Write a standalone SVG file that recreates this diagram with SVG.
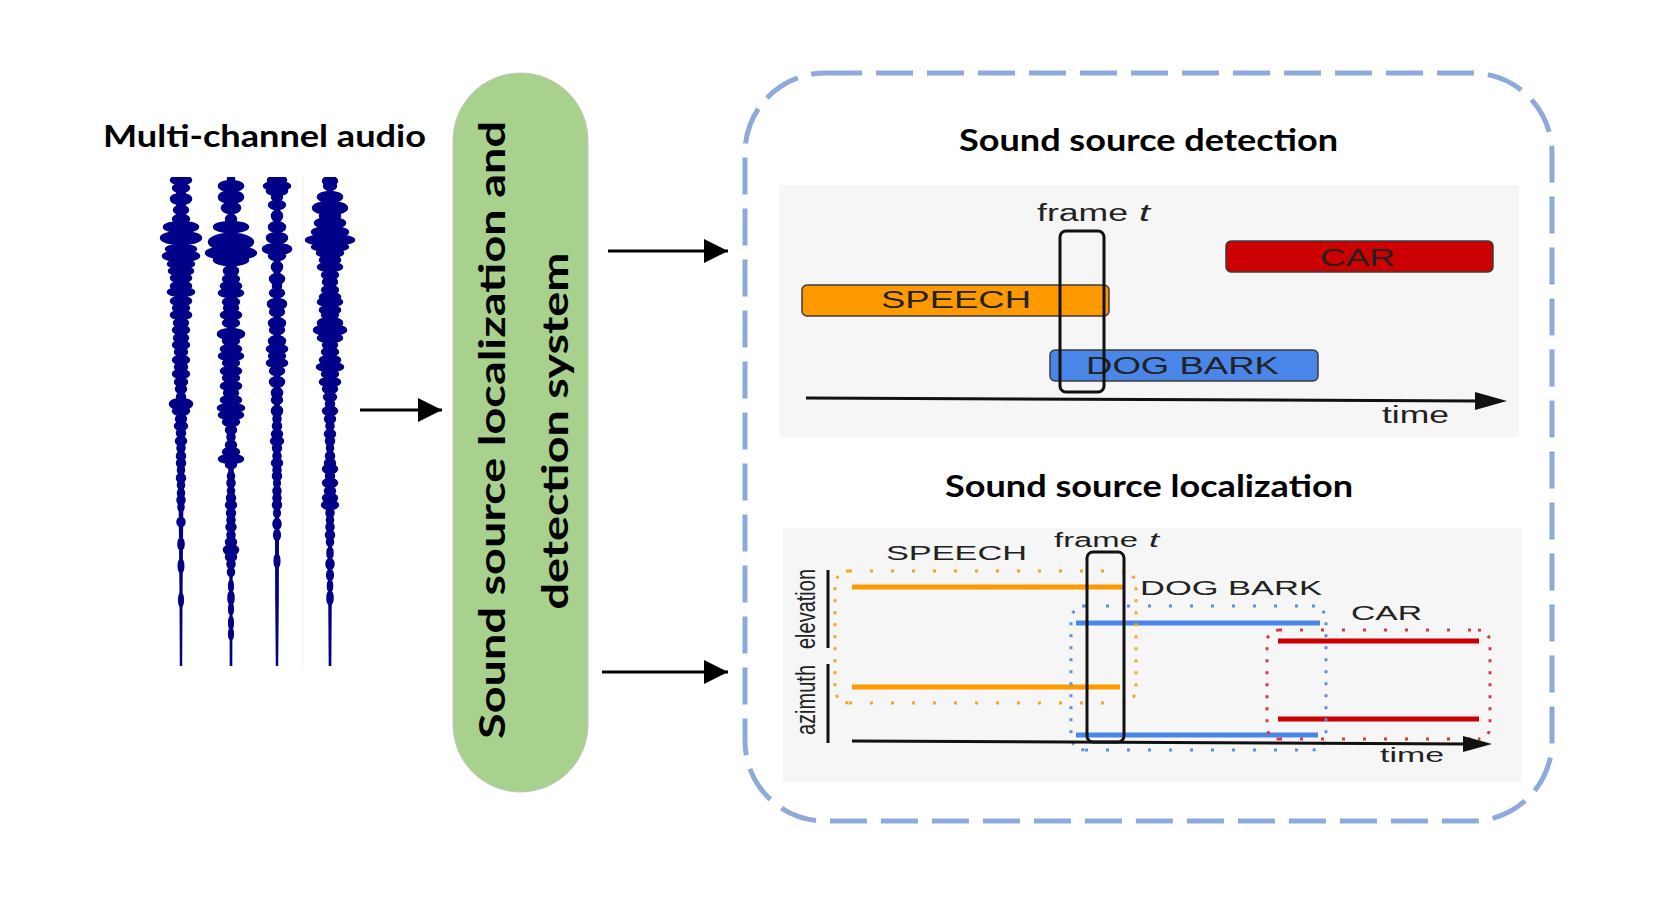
<svg xmlns="http://www.w3.org/2000/svg" width="1655" height="897" viewBox="0 0 1655 897">
<style>
.title{font-family:Lato,"Open Sans","Noto Sans",sans-serif;font-weight:bold;fill:#000}
.lbl{font-family:"Liberation Sans",Arial,sans-serif;fill:#222}
.wave{fill:#000088}
.wave ellipse{stroke:#000088;stroke-width:2.5}
.conn{stroke:#000;stroke-width:3;fill:none}
.bar{stroke:#3c3c3c;stroke-width:1.5}
.frame{fill:none;stroke:#111;stroke-width:3}
.dotH{fill:none;stroke-width:3;stroke-dasharray:3 18}
.dotV{fill:none;stroke-width:3;stroke-dasharray:3 9}
</style>
<defs>
<marker id="arr" markerUnits="userSpaceOnUse" markerWidth="24" markerHeight="24" refX="24" refY="12" orient="auto" viewBox="0 0 24 24">
<path d="M0,0 L24,12 L0,24 Z" fill="#000"/>
</marker>
<clipPath id="wclip"><rect x="140" y="177" width="220" height="489"/></clipPath>
</defs>
<rect width="1655" height="897" fill="#fff"/>

<g id="audio">
<text class="title" x="103" y="147" font-size="31" textLength="323" lengthAdjust="spacingAndGlyphs">Multi-channel audio</text>
<line x1="303" y1="177" x2="303" y2="666" stroke="#efefef" stroke-width="1"/>
<g class="wave" clip-path="url(#wclip)">
<path d="M176,177 L186,177 185,300 184,450 183,540 182.5,600 182.2,666 179.8,666 179.5,600 179,540 178,450 177,300 Z"/>
<ellipse cx="181" cy="180" rx="10" ry="4"/><ellipse cx="181" cy="188" rx="8" ry="4"/><ellipse cx="181" cy="199" rx="10" ry="5"/><ellipse cx="181" cy="210" rx="7" ry="4"/><ellipse cx="181" cy="219" rx="8" ry="4"/><ellipse cx="181" cy="227" rx="17" ry="5"/><ellipse cx="181" cy="238" rx="20" ry="6"/><ellipse cx="181" cy="249" rx="15" ry="4"/><ellipse cx="181" cy="256" rx="18" ry="5"/><ellipse cx="181" cy="264" rx="13" ry="4"/><ellipse cx="181" cy="271" rx="12" ry="4"/><ellipse cx="181" cy="278" rx="10" ry="4"/><ellipse cx="181" cy="286" rx="10" ry="4"/><ellipse cx="181" cy="292" rx="13" ry="4"/><ellipse cx="181" cy="301" rx="10" ry="4"/><ellipse cx="181" cy="308" rx="8" ry="4"/><ellipse cx="181" cy="315" rx="10" ry="4"/><ellipse cx="181" cy="323" rx="7" ry="4"/><ellipse cx="181" cy="330" rx="8" ry="4"/><ellipse cx="181" cy="338" rx="7" ry="4"/><ellipse cx="181" cy="345" rx="8" ry="4"/><ellipse cx="181" cy="352" rx="6" ry="4"/><ellipse cx="181" cy="360" rx="8" ry="4"/><ellipse cx="181" cy="367" rx="6" ry="4"/><ellipse cx="181" cy="374" rx="8" ry="4"/><ellipse cx="181" cy="382" rx="6" ry="4"/><ellipse cx="181" cy="389" rx="5" ry="4"/><ellipse cx="181" cy="397" rx="4" ry="4"/><ellipse cx="181" cy="404" rx="11" ry="5"/><ellipse cx="181" cy="411" rx="8" ry="4"/><ellipse cx="181" cy="419" rx="5" ry="4"/><ellipse cx="181" cy="426" rx="6" ry="4"/><ellipse cx="181" cy="433" rx="4" ry="4"/><ellipse cx="181" cy="441" rx="5" ry="4"/><ellipse cx="181" cy="448" rx="3.5" ry="4"/><ellipse cx="181" cy="456" rx="4" ry="4"/><ellipse cx="181" cy="463" rx="4" ry="4"/><ellipse cx="181" cy="470" rx="3" ry="4"/><ellipse cx="181" cy="478" rx="4" ry="4"/><ellipse cx="181" cy="485" rx="3" ry="4"/><ellipse cx="181" cy="493" rx="3" ry="4"/><ellipse cx="181" cy="500" rx="3.5" ry="4"/><ellipse cx="181" cy="507" rx="2.5" ry="4"/><ellipse cx="181" cy="522" rx="3.5" ry="4"/><ellipse cx="181" cy="544" rx="2.5" ry="5"/><ellipse cx="181" cy="566" rx="2.2" ry="6"/><ellipse cx="181" cy="600" rx="1.8" ry="6"/>

<path d="M228,177 L234,177 235,300 234,450 233,540 232.5,600 232.3,666 229.7,666 229.5,600 229,540 228,450 227,300 Z"/>
<ellipse cx="231" cy="179" rx="3" ry="3"/><ellipse cx="231" cy="186" rx="12" ry="5"/><ellipse cx="231" cy="197" rx="12" ry="6"/><ellipse cx="231" cy="208" rx="9" ry="5"/><ellipse cx="231" cy="219" rx="5" ry="4"/><ellipse cx="231" cy="227" rx="17" ry="5"/><ellipse cx="231" cy="242" rx="22" ry="8"/><ellipse cx="231" cy="253" rx="25" ry="6"/><ellipse cx="231" cy="260" rx="17" ry="5"/><ellipse cx="231" cy="271" rx="7" ry="5"/><ellipse cx="231" cy="279" rx="8" ry="4"/><ellipse cx="231" cy="286" rx="10" ry="4"/><ellipse cx="231" cy="293" rx="12" ry="4"/><ellipse cx="231" cy="302" rx="8" ry="4"/><ellipse cx="231" cy="308" rx="7" ry="4"/><ellipse cx="231" cy="315" rx="10" ry="4"/><ellipse cx="231" cy="323" rx="8" ry="4"/><ellipse cx="231" cy="334" rx="13" ry="5"/><ellipse cx="231" cy="341" rx="8" ry="4"/><ellipse cx="231" cy="349" rx="10" ry="4"/><ellipse cx="231" cy="356" rx="12" ry="4"/><ellipse cx="231" cy="363" rx="8" ry="4"/><ellipse cx="231" cy="371" rx="10" ry="4"/><ellipse cx="231" cy="378" rx="8" ry="4"/><ellipse cx="231" cy="386" rx="10" ry="4"/><ellipse cx="231" cy="393" rx="7" ry="4"/><ellipse cx="231" cy="400" rx="10" ry="4"/><ellipse cx="231" cy="408" rx="13" ry="4"/><ellipse cx="231" cy="415" rx="12" ry="4"/><ellipse cx="231" cy="422" rx="8" ry="4"/><ellipse cx="231" cy="430" rx="5" ry="4"/><ellipse cx="231" cy="437" rx="3.5" ry="4"/><ellipse cx="231" cy="445" rx="5" ry="4"/><ellipse cx="231" cy="452" rx="8" ry="4"/><ellipse cx="231" cy="459" rx="12" ry="4"/><ellipse cx="231" cy="465" rx="5" ry="3"/><ellipse cx="231" cy="476" rx="3" ry="4"/><ellipse cx="231" cy="483" rx="3.5" ry="4"/><ellipse cx="231" cy="491" rx="3" ry="4"/><ellipse cx="231" cy="498" rx="4" ry="4"/><ellipse cx="231" cy="505" rx="5" ry="4"/><ellipse cx="231" cy="513" rx="4" ry="4"/><ellipse cx="231" cy="520" rx="3.5" ry="4"/><ellipse cx="231" cy="527" rx="4.5" ry="4"/><ellipse cx="231" cy="535" rx="3.5" ry="4"/><ellipse cx="231" cy="542" rx="5" ry="4"/><ellipse cx="231" cy="550" rx="7" ry="5"/><ellipse cx="231" cy="557" rx="5" ry="4"/><ellipse cx="231" cy="564" rx="3.5" ry="4"/><ellipse cx="231" cy="572" rx="3" ry="4"/><ellipse cx="231" cy="586" rx="1.8" ry="5"/><ellipse cx="231" cy="598" rx="2.5" ry="6"/><ellipse cx="231" cy="609" rx="1.8" ry="5"/><ellipse cx="231" cy="623" rx="1.8" ry="6"/><ellipse cx="231" cy="634" rx="1.8" ry="5"/>

<path d="M274,177 L280,177 280.5,300 279.5,450 279,540 278.8,600 278.2,666 275.8,666 275.2,600 275,540 274.5,450 273.5,300 Z"/>
<ellipse cx="277" cy="180" rx="9" ry="4"/><ellipse cx="277" cy="186" rx="13" ry="4"/><ellipse cx="277" cy="191" rx="10" ry="4"/><ellipse cx="277" cy="197" rx="5" ry="4"/><ellipse cx="277" cy="205" rx="8" ry="4"/><ellipse cx="277" cy="216" rx="5" ry="5"/><ellipse cx="277" cy="227" rx="8" ry="5"/><ellipse cx="277" cy="238" rx="10" ry="5"/><ellipse cx="277" cy="249" rx="14" ry="5"/><ellipse cx="277" cy="256" rx="8" ry="4"/><ellipse cx="277" cy="267" rx="5" ry="5"/><ellipse cx="277" cy="279" rx="7" ry="5"/><ellipse cx="277" cy="286" rx="4" ry="4"/><ellipse cx="277" cy="293" rx="7" ry="4"/><ellipse cx="277" cy="304" rx="9" ry="5"/><ellipse cx="277" cy="312" rx="7" ry="4"/><ellipse cx="277" cy="323" rx="8" ry="5"/><ellipse cx="277" cy="330" rx="7" ry="4"/><ellipse cx="277" cy="341" rx="8" ry="5"/><ellipse cx="277" cy="349" rx="10" ry="4"/><ellipse cx="277" cy="356" rx="8" ry="4"/><ellipse cx="277" cy="363" rx="10" ry="4"/><ellipse cx="277" cy="371" rx="7" ry="4"/><ellipse cx="277" cy="382" rx="7" ry="5"/><ellipse cx="277" cy="393" rx="5" ry="5"/><ellipse cx="277" cy="400" rx="5" ry="4"/><ellipse cx="277" cy="411" rx="5" ry="5"/><ellipse cx="277" cy="419" rx="3.5" ry="4"/><ellipse cx="277" cy="426" rx="4" ry="4"/><ellipse cx="277" cy="434" rx="5" ry="4"/><ellipse cx="277" cy="441" rx="6" ry="4"/><ellipse cx="277" cy="448" rx="4" ry="4"/><ellipse cx="277" cy="456" rx="3.5" ry="4"/><ellipse cx="277" cy="463" rx="5" ry="4"/><ellipse cx="277" cy="470" rx="3.5" ry="4"/><ellipse cx="277" cy="476" rx="4" ry="4"/><ellipse cx="277" cy="483" rx="2.8" ry="4"/><ellipse cx="277" cy="491" rx="3.5" ry="4"/><ellipse cx="277" cy="498" rx="3.5" ry="4"/><ellipse cx="277" cy="505" rx="4" ry="4"/><ellipse cx="277" cy="513" rx="2.8" ry="4"/><ellipse cx="277" cy="524" rx="3.5" ry="5"/><ellipse cx="277" cy="535" rx="2.8" ry="5"/><ellipse cx="277" cy="561" rx="2.3" ry="6"/>

<path d="M327,177 L333,177 333.5,300 332.5,450 332,540 331.8,600 331.3,666 328.7,666 328.2,600 328,540 327.5,450 326.5,300 Z"/>
<ellipse cx="330" cy="181" rx="7" ry="4"/><ellipse cx="330" cy="186" rx="6" ry="4"/><ellipse cx="330" cy="197" rx="12" ry="5"/><ellipse cx="330" cy="208" rx="17" ry="6"/><ellipse cx="330" cy="216" rx="10" ry="4"/><ellipse cx="330" cy="223" rx="15" ry="5"/><ellipse cx="330" cy="232" rx="18" ry="5"/><ellipse cx="330" cy="240" rx="24" ry="5"/><ellipse cx="330" cy="247" rx="18" ry="4"/><ellipse cx="330" cy="253" rx="13" ry="4"/><ellipse cx="330" cy="260" rx="10" ry="4"/><ellipse cx="330" cy="267" rx="12" ry="4"/><ellipse cx="330" cy="275" rx="8" ry="4"/><ellipse cx="330" cy="282" rx="7" ry="4"/><ellipse cx="330" cy="290" rx="8" ry="4"/><ellipse cx="330" cy="297" rx="10" ry="4"/><ellipse cx="330" cy="302" rx="12" ry="4"/><ellipse cx="330" cy="310" rx="10" ry="4"/><ellipse cx="330" cy="315" rx="8" ry="4"/><ellipse cx="330" cy="323" rx="12" ry="5"/><ellipse cx="330" cy="330" rx="16" ry="5"/><ellipse cx="330" cy="338" rx="12" ry="4"/><ellipse cx="330" cy="345" rx="7" ry="4"/><ellipse cx="330" cy="352" rx="8" ry="4"/><ellipse cx="330" cy="360" rx="10" ry="4"/><ellipse cx="330" cy="367" rx="13" ry="4"/><ellipse cx="330" cy="374" rx="8" ry="4"/><ellipse cx="330" cy="382" rx="10" ry="4"/><ellipse cx="330" cy="389" rx="7" ry="4"/><ellipse cx="330" cy="397" rx="6" ry="4"/><ellipse cx="330" cy="404" rx="4" ry="4"/><ellipse cx="330" cy="411" rx="7" ry="4"/><ellipse cx="330" cy="419" rx="5" ry="4"/><ellipse cx="330" cy="426" rx="3.5" ry="4"/><ellipse cx="330" cy="434" rx="5" ry="4"/><ellipse cx="330" cy="441" rx="4" ry="4"/><ellipse cx="330" cy="448" rx="3" ry="4"/><ellipse cx="330" cy="456" rx="4" ry="4"/><ellipse cx="330" cy="463" rx="5" ry="4"/><ellipse cx="330" cy="469" rx="7" ry="4"/><ellipse cx="330" cy="476" rx="4" ry="4"/><ellipse cx="330" cy="483" rx="7" ry="4"/><ellipse cx="330" cy="491" rx="5" ry="4"/><ellipse cx="330" cy="498" rx="7" ry="4"/><ellipse cx="330" cy="505" rx="8" ry="4"/><ellipse cx="330" cy="513" rx="3.5" ry="4"/><ellipse cx="330" cy="520" rx="3" ry="4"/><ellipse cx="330" cy="527" rx="3.5" ry="4"/><ellipse cx="330" cy="535" rx="4" ry="4"/><ellipse cx="330" cy="542" rx="3" ry="4"/><ellipse cx="330" cy="553" rx="2.5" ry="5"/><ellipse cx="330" cy="564" rx="3.5" ry="5"/><ellipse cx="330" cy="575" rx="2.8" ry="5"/><ellipse cx="330" cy="586" rx="2" ry="5"/><ellipse cx="330" cy="598" rx="2.5" ry="6"/>
</g>
</g>

<g id="system">
<rect x="453" y="73" width="135" height="719" rx="67.5" ry="67.5" fill="#a9d18e" stroke="#c4c4c4" stroke-width="1"/>
<text class="title" transform="translate(505,430) rotate(-90)" text-anchor="middle" font-size="37" textLength="618" lengthAdjust="spacingAndGlyphs">Sound source localization and</text>
<text class="title" transform="translate(568,431) rotate(-90)" text-anchor="middle" font-size="37" textLength="357" lengthAdjust="spacingAndGlyphs">detection system</text>
</g>

<g id="output">
<rect x="745" y="73" width="807" height="748" rx="80" ry="80" fill="none" stroke="#8eaadb" stroke-width="5" stroke-dasharray="37 14"/>
</g>

<g id="detection">
<text class="title" x="959" y="151" font-size="31" textLength="379" lengthAdjust="spacingAndGlyphs">Sound source detection</text>
<rect x="779" y="185" width="740" height="252" fill="#f6f6f6"/>
<rect class="bar" x="1226" y="241" width="267" height="31" rx="5" fill="#cc0000"/>
<text class="lbl" x="1320" y="266" font-size="24" textLength="75" lengthAdjust="spacingAndGlyphs">CAR</text>
<rect class="bar" x="802" y="285" width="307" height="31" rx="5" fill="#ff9900"/>
<text class="lbl" x="881" y="308" font-size="24" textLength="150" lengthAdjust="spacingAndGlyphs">SPEECH</text>
<rect class="bar" x="1050" y="350" width="268" height="31" rx="5" fill="#4a86e8"/>
<text class="lbl" x="1086" y="374" font-size="24" textLength="193" lengthAdjust="spacingAndGlyphs">DOG BARK</text>
<rect class="frame" x="1060" y="231" width="44" height="161" rx="6"/>
<text class="lbl" x="1037" y="221" font-size="23" textLength="91" lengthAdjust="spacingAndGlyphs">frame</text>
<text class="lbl" x="1139" y="221" font-size="23" font-style="italic" textLength="11" lengthAdjust="spacingAndGlyphs">t</text>
<line x1="806" y1="398" x2="1478" y2="401" stroke="#111" stroke-width="3"/>
<polygon points="1475,392 1507,401 1475,410" fill="#111"/>
<text class="lbl" x="1382" y="423" font-size="23" textLength="67" lengthAdjust="spacingAndGlyphs">time</text>
</g>

<g id="localization">
<text class="title" x="945" y="497" font-size="31" textLength="408" lengthAdjust="spacingAndGlyphs">Sound source localization</text>
<rect x="783" y="528" width="739" height="254" fill="#f6f6f6"/>
<text class="lbl" x="886" y="560" font-size="21" textLength="141" lengthAdjust="spacingAndGlyphs">SPEECH</text>
<text class="lbl" x="1054" y="547" font-size="20" textLength="84" lengthAdjust="spacingAndGlyphs">frame</text>
<text class="lbl" x="1149" y="547" font-size="20" font-style="italic" textLength="10" lengthAdjust="spacingAndGlyphs">t</text>
<text class="lbl" x="1140" y="595" font-size="21" textLength="182" lengthAdjust="spacingAndGlyphs">DOG BARK</text>
<text class="lbl" x="1351" y="620" font-size="21" textLength="71" lengthAdjust="spacingAndGlyphs">CAR</text>
<text class="lbl" transform="translate(815,609) scale(1.4,1) rotate(-90)" text-anchor="middle" font-size="20">elevation</text>
<text class="lbl" transform="translate(815,700) scale(1.4,1) rotate(-90)" text-anchor="middle" font-size="20">azimuth</text>
<line x1="828" y1="570" x2="828" y2="648" stroke="#111" stroke-width="3"/>
<line x1="828" y1="664" x2="828" y2="743" stroke="#111" stroke-width="3"/>
<line x1="852" y1="587" x2="1123" y2="587" stroke="#ff9900" stroke-width="5"/>
<line x1="852" y1="687" x2="1120" y2="687" stroke="#ff9900" stroke-width="5"/>
<line x1="1076" y1="623" x2="1320" y2="623" stroke="#4a86e8" stroke-width="5"/>
<line x1="1076" y1="735" x2="1318" y2="735" stroke="#4a86e8" stroke-width="5"/>
<line x1="1278" y1="641" x2="1479" y2="641" stroke="#cc0000" stroke-width="5"/>
<line x1="1278" y1="719" x2="1479" y2="719" stroke="#cc0000" stroke-width="5"/>
<path class="dotH" stroke="#f5a623" d="M849,571 H1122 M849,703 H1122"/>
<path class="dotV" stroke="#f5a623" d="M849,571 A14,14 0 0 0 835,585 V689 A14,14 0 0 0 849,703 M1122,571 A14,14 0 0 1 1136,585 V689 A14,14 0 0 1 1122,703"/>
<path class="dotH" stroke="#5b8fe8" d="M1085,606 H1312 M1085,750 H1312"/>
<path class="dotV" stroke="#5b8fe8" d="M1085,606 A14,14 0 0 0 1071,620 V736 A14,14 0 0 0 1085,750 M1312,606 A14,14 0 0 1 1326,620 V736 A14,14 0 0 1 1312,750"/>
<path class="dotH" stroke="#d93a3a" d="M1279,630 H1478 M1279,739 H1478"/>
<path class="dotV" stroke="#d93a3a" d="M1279,630 A12,12 0 0 0 1267,642 V727 A12,12 0 0 0 1279,739 M1478,630 A12,12 0 0 1 1490,642 V727 A12,12 0 0 1 1478,739"/>
<rect class="frame" x="1087" y="552" width="37" height="190" rx="6"/>
<line x1="852" y1="741" x2="1466" y2="744" stroke="#111" stroke-width="3"/>
<polygon points="1463,736 1492,744 1463,752" fill="#111"/>
<text class="lbl" x="1380" y="762" font-size="21" textLength="64" lengthAdjust="spacingAndGlyphs">time</text>
</g>

<g id="connectors">
<line class="conn" x1="360" y1="410" x2="442" y2="410" marker-end="url(#arr)"/>
<line class="conn" x1="608" y1="251" x2="728" y2="251" marker-end="url(#arr)"/>
<line class="conn" x1="602" y1="672" x2="728" y2="672" marker-end="url(#arr)"/>
</g>
</svg>
